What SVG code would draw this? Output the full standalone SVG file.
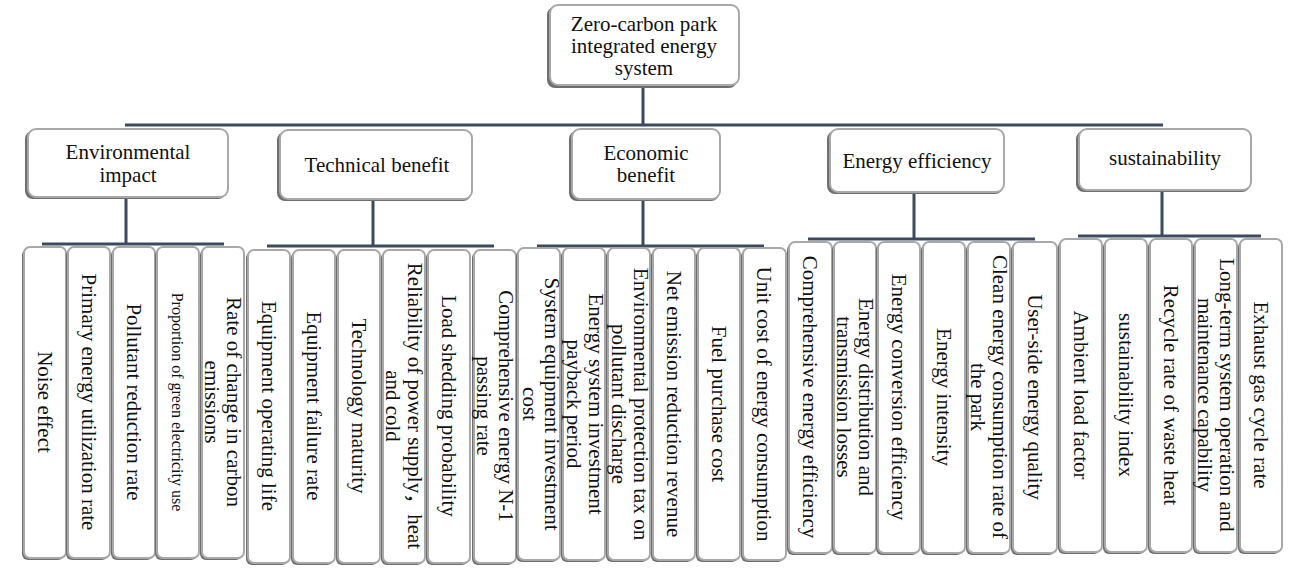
<svg xmlns="http://www.w3.org/2000/svg" width="1294" height="575" viewBox="0 0 1294 575">
<style>
.sh{fill:#6f6f6f}
.bx{fill:#ffffff;stroke:#a8a8a8;stroke-width:2}
text{font-family:'Liberation Serif','Tinos','Times New Roman','DejaVu Serif',serif;font-size:21px;fill:#111;text-anchor:middle}
.cjk{font-family:'Liberation Serif','Noto Sans CJK SC',serif}
.s{font-size:16px}
.cn{stroke:#3b4a5f;stroke-width:3;fill:none}
</style>
<rect width="1294" height="575" fill="#ffffff"/>
<g id="connectors" class="cn">
<path d="M643 86V125M125 125H1163"/>
<path d="M126 197V244M42 244H224"/>
<path d="M373 199V246M267 246H494"/>
<path d="M643 199V246M537 246H764"/>
<path d="M914 192V239M808 239H1035"/>
<path d="M1162 190V236M1078 236H1261"/>
</g>
<g id="root">
<rect class="sh" x="547" y="7" width="190" height="81" rx="8"/>
<rect class="bx" x="550" y="5" width="189" height="80" rx="8"/>
<text x="644" y="31">Zero-carbon park</text>
<text x="644" y="53">integrated energy</text>
<text x="644" y="75">system</text>
</g>
<g id="env">
<rect class="sh" x="25" y="131" width="201" height="68" rx="8"/>
<rect class="bx" x="28" y="129" width="200" height="68" rx="8"/>
<text x="128" y="159">Environmental</text>
<text x="128" y="182">impact</text>
</g>
<g id="tech">
<rect class="sh" x="277" y="132" width="194" height="69" rx="8"/>
<rect class="bx" x="280" y="130" width="192" height="69" rx="8"/>
<text x="377" y="172">Technical benefit</text>
</g>
<g id="econ">
<rect class="sh" x="569" y="131" width="150" height="70" rx="8"/>
<rect class="bx" x="572" y="129" width="148" height="70" rx="8"/>
<text x="646" y="160">Economic</text>
<text x="646" y="182">benefit</text>
</g>
<g id="eff">
<rect class="sh" x="827" y="131" width="176" height="63" rx="8"/>
<rect class="bx" x="830" y="129" width="174" height="63" rx="8"/>
<text x="917" y="168">Energy efficiency</text>
</g>
<g id="sus">
<rect class="sh" x="1076" y="131" width="174" height="61" rx="8"/>
<rect class="bx" x="1079" y="129" width="172" height="61" rx="8"/>
<text x="1165" y="165">sustainability</text>
</g>
<g id="e1"><rect class="sh" x="22" y="249" width="42" height="311" rx="6"/><rect class="bx" x="24" y="247" width="42" height="311" rx="6"/><text transform="translate(45 402) rotate(90)" dy="0.35em">Noise effect</text></g>
<g id="e2"><rect class="sh" x="66" y="249" width="42" height="311" rx="6"/><rect class="bx" x="68" y="247" width="42" height="311" rx="6"/><text transform="translate(89 402) rotate(90)" dy="0.35em">Primary energy utilization rate</text></g>
<g id="e3"><rect class="sh" x="111" y="249" width="42" height="311" rx="6"/><rect class="bx" x="113" y="247" width="42" height="311" rx="6"/><text transform="translate(134 402) rotate(90)" dy="0.35em">Pollutant reduction rate</text></g>
<g id="e4"><rect class="sh" x="155" y="249" width="42" height="311" rx="6"/><rect class="bx" x="157" y="247" width="42" height="311" rx="6"/><text class="s" transform="translate(178 402) rotate(90)" dy="0.35em">Proportion of green electricity use</text></g>
<g id="e5"><rect class="sh" x="200" y="249" width="42" height="311" rx="6"/><rect class="bx" x="202" y="247" width="42" height="311" rx="6"/><text transform="translate(223 402) rotate(90)"><tspan x="0" y="-11" dy="0.35em">Rate of change in carbon</tspan><tspan x="0" y="11" dy="0.35em">emissions</tspan></text></g>
<g id="t1"><rect class="sh" x="246" y="252" width="42" height="313" rx="6"/><rect class="bx" x="248" y="250" width="42" height="313" rx="6"/><text transform="translate(269 406) rotate(90)" dy="0.35em">Equipment operating life</text></g>
<g id="t2"><rect class="sh" x="291" y="252" width="42" height="313" rx="6"/><rect class="bx" x="293" y="250" width="42" height="313" rx="6"/><text transform="translate(314 406) rotate(90)" dy="0.35em">Equipment failure rate</text></g>
<g id="t3"><rect class="sh" x="336" y="252" width="42" height="313" rx="6"/><rect class="bx" x="338" y="250" width="42" height="313" rx="6"/><text transform="translate(359 406) rotate(90)" dy="0.35em">Technology maturity</text></g>
<g id="t4"><rect class="sh" x="381" y="252" width="42" height="313" rx="6"/><rect class="bx" x="383" y="250" width="42" height="313" rx="6"/><text transform="translate(404 406) rotate(90)"><tspan x="0" y="-11" dy="0.35em">Reliability of power supply<tspan class="cjk">，</tspan>heat</tspan><tspan x="0" y="11" dy="0.35em">and cold</tspan></text></g>
<g id="t5"><rect class="sh" x="426" y="252" width="42" height="313" rx="6"/><rect class="bx" x="428" y="250" width="42" height="313" rx="6"/><text transform="translate(449 406) rotate(90)" dy="0.35em">Load shedding probability</text></g>
<g id="t6"><rect class="sh" x="472" y="252" width="42" height="313" rx="6"/><rect class="bx" x="474" y="250" width="42" height="313" rx="6"/><text transform="translate(495 406) rotate(90)"><tspan x="0" y="-11" dy="0.35em">Comprehensive energy N-1</tspan><tspan x="0" y="11" dy="0.35em">passing rate</tspan></text></g>
<g id="c1"><rect class="sh" x="516" y="250" width="42" height="312" rx="6"/><rect class="bx" x="518" y="248" width="42" height="312" rx="6"/><text transform="translate(541 404) rotate(90)"><tspan x="0" y="-11" dy="0.35em">System equipment investment</tspan><tspan x="0" y="11" dy="0.35em">cost</tspan></text></g>
<g id="c2"><rect class="sh" x="561" y="250" width="42" height="312" rx="6"/><rect class="bx" x="563" y="248" width="42" height="312" rx="6"/><text transform="translate(585 404) rotate(90)"><tspan x="0" y="-11" dy="0.35em">Energy system investment</tspan><tspan x="0" y="11" dy="0.35em">payback period</tspan></text></g>
<g id="c3"><rect class="sh" x="606" y="250" width="42" height="312" rx="6"/><rect class="bx" x="608" y="248" width="42" height="312" rx="6"/><text transform="translate(630 404) rotate(90)"><tspan x="0" y="-11" dy="0.35em">Environmental protection tax on</tspan><tspan x="0" y="11" dy="0.35em">pollutant discharge</tspan></text></g>
<g id="c4"><rect class="sh" x="651" y="250" width="42" height="312" rx="6"/><rect class="bx" x="653" y="248" width="42" height="312" rx="6"/><text transform="translate(674 404) rotate(90)" dy="0.35em">Net emission reduction revenue</text></g>
<g id="c5"><rect class="sh" x="696" y="250" width="42" height="312" rx="6"/><rect class="bx" x="698" y="248" width="42" height="312" rx="6"/><text transform="translate(719 404) rotate(90)" dy="0.35em">Fuel purchase cost</text></g>
<g id="c6"><rect class="sh" x="741" y="250" width="43" height="312" rx="6"/><rect class="bx" x="743" y="248" width="43" height="312" rx="6"/><text transform="translate(764 404) rotate(90)" dy="0.35em">Unit cost of energy consumption</text></g>
<g id="f1"><rect class="sh" x="787" y="244" width="43" height="311" rx="6"/><rect class="bx" x="789" y="242" width="43" height="311" rx="6"/><text transform="translate(810 397) rotate(90)" dy="0.35em">Comprehensive energy efficiency</text></g>
<g id="f2"><rect class="sh" x="832" y="244" width="42" height="311" rx="6"/><rect class="bx" x="834" y="242" width="42" height="311" rx="6"/><text transform="translate(855 397) rotate(90)"><tspan x="0" y="-11" dy="0.35em">Energy distribution and</tspan><tspan x="0" y="11" dy="0.35em">transmission losses</tspan></text></g>
<g id="f3"><rect class="sh" x="876" y="244" width="42" height="311" rx="6"/><rect class="bx" x="878" y="242" width="42" height="311" rx="6"/><text transform="translate(899 397) rotate(90)" dy="0.35em">Energy conversion efficiency</text></g>
<g id="f4"><rect class="sh" x="921" y="244" width="42" height="311" rx="6"/><rect class="bx" x="923" y="242" width="42" height="311" rx="6"/><text transform="translate(944 397) rotate(90)" dy="0.35em">Energy intensity</text></g>
<g id="f5"><rect class="sh" x="966" y="244" width="42" height="311" rx="6"/><rect class="bx" x="968" y="242" width="42" height="311" rx="6"/><text transform="translate(989 397) rotate(90)"><tspan x="0" y="-11" dy="0.35em">Clean energy consumption rate of</tspan><tspan x="0" y="11" dy="0.35em">the park</tspan></text></g>
<g id="f6"><rect class="sh" x="1011" y="244" width="44" height="311" rx="6"/><rect class="bx" x="1013" y="242" width="44" height="311" rx="6"/><text transform="translate(1035 397) rotate(90)" dy="0.35em">User-side energy quality</text></g>
<g id="s1"><rect class="sh" x="1058" y="241" width="42" height="313" rx="6"/><rect class="bx" x="1060" y="239" width="42" height="313" rx="6"/><text transform="translate(1081 395) rotate(90)" dy="0.35em">Ambient load factor</text></g>
<g id="s2"><rect class="sh" x="1103" y="241" width="42" height="313" rx="6"/><rect class="bx" x="1105" y="239" width="42" height="313" rx="6"/><text transform="translate(1126 395) rotate(90)" dy="0.35em">sustainability index</text></g>
<g id="s3"><rect class="sh" x="1148" y="241" width="42" height="313" rx="6"/><rect class="bx" x="1150" y="239" width="42" height="313" rx="6"/><text transform="translate(1171 395) rotate(90)" dy="0.35em">Recycle rate of waste heat</text></g>
<g id="s4"><rect class="sh" x="1193" y="241" width="42" height="313" rx="6"/><rect class="bx" x="1195" y="239" width="42" height="313" rx="6"/><text transform="translate(1216 395) rotate(90)"><tspan x="0" y="-11" dy="0.35em">Long-term system operation and</tspan><tspan x="0" y="11" dy="0.35em">maintenance capability</tspan></text></g>
<g id="s5"><rect class="sh" x="1238" y="241" width="42" height="313" rx="6"/><rect class="bx" x="1240" y="239" width="42" height="313" rx="6"/><text transform="translate(1261 395) rotate(90)" dy="0.35em">Exhaust gas cycle rate</text></g>
</svg>
